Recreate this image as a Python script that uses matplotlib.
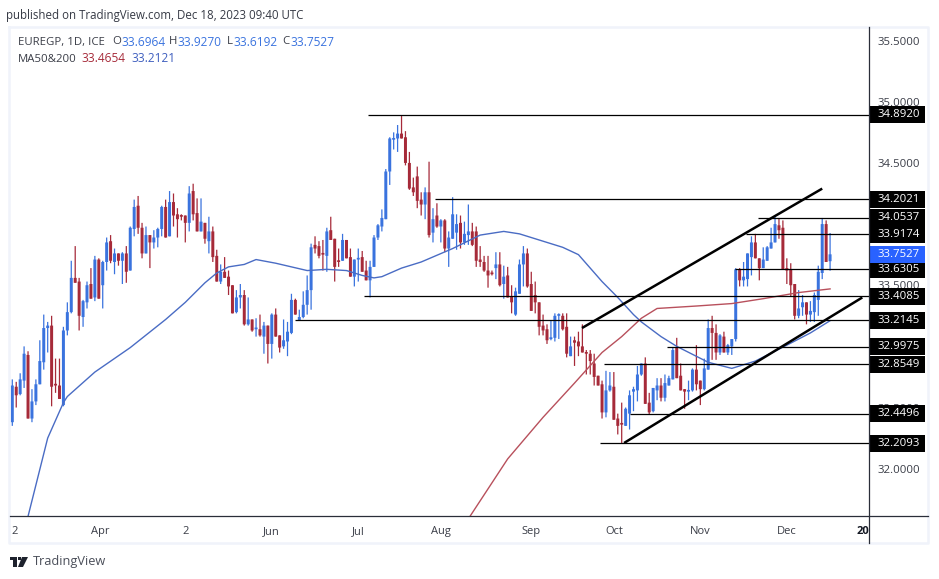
import numpy as np
import matplotlib
matplotlib.use('Agg')
import matplotlib.pyplot as plt
from matplotlib.lines import Line2D
from matplotlib.patches import Rectangle, Polygon

# daily candles
opens = [32.38,32.67,32.61,32.72,32.93,32.41,32.55,32.69,32.87,33.15,
 33.17,32.69,32.68,32.52,33.13,33.28,33.56,33.53,33.24,33.36,
 33.51,33.40,33.71,33.50,33.69,33.86,33.69,33.76,33.70,33.76,
 33.62,33.96,34.15,33.97,33.76,33.91,33.85,33.89,33.96,34.14,
 33.90,34.18,34.08,34.07,34.07,34.01,34.27,34.09,33.94,34.01,
 33.86,33.94,33.74,33.53,33.61,33.57,33.50,33.28,33.40,33.42,
 33.18,33.22,33.14,33.14,33.08,33.17,33.02,33.26,33.09,33.00,
 33.04,33.11,33.38,33.21,33.24,33.34,33.46,33.83,33.82,33.76,
 33.74,33.95,33.88,33.70,33.70,33.87,33.73,33.57,33.71,33.73,
 33.62,33.54,33.65,33.89,33.98,34.04,34.43,34.69,34.70,34.74,
 34.71,34.50,34.30,34.39,34.20,34.16,34.26,33.93,34.07,33.98,
 34.03,33.80,33.88,33.93,34.01,33.85,33.91,33.94,33.94,33.71,
 33.69,33.62,33.60,33.64,33.67,33.51,33.58,33.41,33.26,33.43,
 33.67,33.76,33.51,33.42,33.36,33.17,33.14,33.06,33.07,33.25,
 33.25,33.16,32.92,33.05,33.04,33.00,32.95,32.94,32.86,32.76,
 32.69,32.46,32.64,32.67,32.41,32.37,32.35,32.45,32.63,32.64,
 32.77,32.86,32.54,32.47,32.64,32.68,32.58,32.68,32.73,32.99,
 32.76,32.65,32.63,32.64,32.81,32.72,32.65,32.81,33.15,33.11,
 32.95,33.08,32.95,33.00,33.06,33.63,33.54,33.55,33.73,33.85,
 33.72,33.64,33.70,33.80,33.85,33.99,33.97,33.64,33.63,33.51,
 33.25,33.32,33.36,33.26,33.28,33.38,33.60,34.00,33.6964]
highs = [32.73,32.71,32.78,33.00,32.96,32.65,32.73,33.05,33.26,33.20,
 33.25,32.90,32.90,33.16,33.36,33.70,33.82,33.56,33.38,33.53,
 33.64,33.74,33.72,33.70,33.89,33.91,33.80,33.76,33.77,33.82,
 33.98,34.20,34.23,34.01,33.98,33.91,33.95,33.97,34.15,34.20,
 34.27,34.25,34.13,34.08,34.07,34.31,34.33,34.21,34.21,34.01,
 34.06,33.98,33.79,33.67,33.73,33.62,33.50,33.46,33.51,33.46,
 33.40,33.22,33.23,33.26,33.20,33.17,33.27,33.31,33.09,33.22,
 33.20,33.43,33.39,33.30,33.45,33.58,33.84,33.90,33.86,33.87,
 33.97,34.06,33.88,33.80,33.92,33.87,33.80,33.71,33.80,33.78,
 33.70,33.70,33.91,34.00,34.12,34.45,34.71,34.75,34.81,34.89,
 34.76,34.59,34.38,34.47,34.26,34.30,34.51,34.13,34.17,34.04,
 34.04,33.94,34.22,34.08,34.07,34.02,34.16,34.01,33.98,33.82,
 33.74,33.74,33.62,33.77,33.77,33.66,33.65,33.50,33.48,33.71,
 33.82,33.80,33.61,33.53,33.36,33.26,33.18,33.21,33.27,33.27,
 33.27,33.27,33.08,33.08,33.12,33.18,32.97,32.97,32.94,32.76,
 32.72,32.80,32.79,32.79,32.45,32.54,32.50,32.64,32.67,32.84,
 32.86,32.91,32.62,32.66,32.74,32.74,32.77,32.76,32.99,33.07,
 32.86,32.65,32.72,32.82,33.01,32.72,32.90,33.22,33.25,33.18,
 33.10,33.12,33.02,33.06,33.64,33.64,33.69,33.76,33.90,33.92,
 33.72,33.81,33.82,33.97,34.07,34.05,34.03,33.72,33.68,33.51,
 33.46,33.42,33.36,33.37,33.44,33.66,34.05,34.03,33.9270]
lows = [32.35,32.50,32.60,32.66,32.41,32.38,32.52,32.69,32.81,32.95,
 32.51,32.62,32.57,32.51,33.09,33.27,33.52,33.13,33.16,33.31,
 33.39,33.37,33.39,33.31,33.62,33.68,33.59,33.66,33.51,33.52,
 33.62,33.90,33.92,33.72,33.76,33.64,33.80,33.81,33.90,33.89,
 33.90,33.98,33.89,34.03,33.85,33.94,34.03,33.94,33.94,33.84,
 33.76,33.69,33.53,33.51,33.56,33.42,33.27,33.27,33.31,33.17,
 33.17,33.12,33.08,33.08,32.94,32.86,32.90,33.08,32.95,32.98,
 32.92,33.10,33.26,33.21,33.23,33.26,33.30,33.76,33.72,33.62,
 33.61,33.87,33.53,33.65,33.70,33.72,33.57,33.49,33.53,33.61,
 33.54,33.40,33.65,33.87,33.94,34.04,34.32,34.61,34.59,34.70,
 34.48,34.28,34.23,34.13,34.07,34.04,33.89,33.85,33.97,33.85,
 33.77,33.65,33.88,33.79,33.80,33.83,33.83,33.82,33.65,33.65,
 33.61,33.48,33.58,33.55,33.49,33.39,33.40,33.27,33.25,33.43,
 33.49,33.48,33.29,33.27,33.09,33.09,33.02,33.05,33.04,33.06,
 33.13,32.91,32.92,32.84,32.92,32.95,32.77,32.77,32.68,32.68,
 32.41,32.42,32.63,32.40,32.28,32.21,32.35,32.32,32.47,32.55,
 32.76,32.53,32.44,32.46,32.56,32.55,32.55,32.68,32.73,32.74,
 32.64,32.49,32.56,32.63,32.64,32.52,32.64,32.81,32.89,32.89,
 32.93,32.95,32.93,32.93,33.04,33.49,33.49,33.49,33.58,33.72,
 33.54,33.64,33.70,33.80,33.85,33.88,33.63,33.51,33.41,33.22,
 33.23,33.25,33.18,33.20,33.20,33.25,33.55,33.69,33.6192]
closes = [32.68,32.60,32.73,32.94,32.41,32.55,32.69,32.88,33.15,33.17,
 32.67,32.68,32.57,33.13,33.28,33.56,33.52,33.25,33.37,33.50,
 33.39,33.71,33.39,33.69,33.85,33.70,33.76,33.70,33.76,33.61,
 33.97,34.14,33.97,33.76,33.91,33.85,33.89,33.96,34.14,33.89,
 34.18,34.07,34.04,34.06,34.01,34.25,34.08,33.94,34.02,33.88,
 33.94,33.73,33.53,33.61,33.56,33.49,33.27,33.40,33.42,33.18,
 33.22,33.13,33.15,33.09,33.17,33.02,33.26,33.08,32.99,33.05,
 33.12,33.38,33.26,33.24,33.34,33.46,33.81,33.80,33.74,33.75,
 33.94,33.87,33.65,33.69,33.87,33.72,33.57,33.71,33.72,33.61,
 33.54,33.65,33.89,33.99,34.05,34.43,34.70,34.70,34.74,34.70,
 34.50,34.29,34.26,34.19,34.16,34.26,33.91,34.04,33.98,34.03,
 33.80,33.89,34.08,34.00,33.85,33.92,33.94,33.83,33.70,33.69,
 33.62,33.58,33.59,33.67,33.50,33.57,33.40,33.36,33.45,33.67,
 33.76,33.49,33.29,33.36,33.16,33.13,33.05,33.07,33.25,33.26,
 33.14,32.94,33.00,33.03,33.00,32.95,32.94,32.88,32.75,32.68,
 32.46,32.64,32.68,32.40,32.35,32.36,32.49,32.60,32.65,32.77,
 32.86,32.53,32.46,32.66,32.68,32.58,32.70,32.74,32.97,32.74,
 32.64,32.63,32.64,32.81,32.69,32.65,32.82,33.15,33.11,32.95,
 33.09,32.95,33.01,33.06,33.63,33.54,33.57,33.76,33.85,33.72,
 33.64,33.71,33.81,33.85,34.00,33.95,33.63,33.62,33.50,33.25,
 33.31,33.36,33.26,33.29,33.42,33.61,34.00,33.69,33.7527]

# moving averages, bar number and price
ma50_bars = [4,9,13,14,21,30,39,44,49,52,55,59,62,67,75,80,85,89,92,94,99,104,112,119,125,129,134,140,144,147,150,154,158,160,165,169,177,183,189,197,203,208]
ma50_vals = [31.61,32.25,32.54,32.59,32.79,32.99,33.22,33.36,33.52,33.60,33.65,33.67,33.71,33.68,33.62,33.63,33.62,33.58,33.56,33.57,33.64,33.69,33.80,33.91,33.94,33.92,33.87,33.81,33.75,33.64,33.53,33.40,33.26,33.20,33.08,33.00,32.87,32.82,32.88,33.01,33.11,33.21]
ma200_bars = [116,126,135,143,150,155,160,164,174,183,191,200,208]
ma200_vals = [31.59,32.08,32.42,32.70,32.95,33.08,33.23,33.31,33.33,33.35,33.39,33.44,33.47]

# drawn levels: price and the bar where the line begins
level_vals = [34.8920,34.2021,34.0537,33.9174,33.6305,33.4085,33.2145,32.9975,32.8549,32.4496,32.2093]
level_bars = [90.5,107.5,189.7,186.6,183.9,89.5,71.9,166.6,150.5,157.1,149.5]

# channel lines
upper_bars = [144.9,206]
upper_vals = [33.15,34.29]
lower_bars = [155.6,216.2]
lower_vals = [32.21,33.40]

# 34.0 and 33.0 sit fully behind the level boxes, so they are left out
ytick_vals = [35.5,35.0,34.5,33.5,32.5,32.0]
xtick_bars = [0.7,22.3,44,66,88,109,132,153,175,197,216.4]
xtick_labels = ['2','Apr','2','Jun','Jul','Aug','Sep','Oct','Nov','Dec','20']

last_close = 33.7527

BLUE = '#3a73de'
RED = '#a62a39'
GREY = '#f0f3fa'
TXT = '#3a3d47'
FONT = 'Open Sans'

W, H = 939, 579
fig = plt.figure(figsize=(W/100, H/100), dpi=100, facecolor='white')
plt.rcParams['font.family'] = FONT

L, R, T, B = 10, 869, 27, 516
ax = fig.add_axes([L/W, 1-B/H, (R-L)/W, (B-T)/H])
ax.set_xlim(-0.585, 217.9)
ax.set_ylim(31.613, 35.6115)
for s in ax.spines.values():
    s.set_visible(False)

# candles, no pixel snapping so the 3.9px spacing stays even
o = np.array(opens); h = np.array(highs); l = np.array(lows); c = np.array(closes)
bars = np.arange(len(o))
cols = np.where(c >= o, BLUE, RED)
wicks = ax.vlines(bars, l, h, colors=cols, linewidth=0.9, zorder=2)
wicks.set_snap(False)
bodies = ax.bar(bars, np.maximum(np.abs(c-o), 0.014), bottom=np.minimum(o, c), width=0.76, color=cols, linewidth=0, zorder=2.1)
for b in bodies:
    b.set_snap(False)

# moving averages
ax.plot(ma50_bars, ma50_vals, color='#4a6cc4', lw=1.0, zorder=3)
ax.plot(ma200_bars, ma200_vals, color='#b8505c', lw=1.0, zorder=3)

# levels and channel
ax.hlines(level_vals, level_bars, 217.9, colors='black', linewidth=0.9, zorder=4)
ax.plot(upper_bars, upper_vals, color='black', lw=1.8, zorder=4, solid_capstyle='butt')
ax.plot(lower_bars, lower_vals, color='black', lw=1.8, zorder=4, solid_capstyle='butt')

# axis labels
ax.yaxis.tick_right()
ax.set_yticks(ytick_vals)
ax.set_yticklabels(['%.4f' % v for v in ytick_vals], fontsize=8.2, color=TXT, family=FONT)
ax.tick_params(axis='y', length=0, pad=5.8)
ax.set_xticks(xtick_bars)
ax.set_xticklabels(xtick_labels, fontsize=8.0, color=TXT, family=FONT)
ax.tick_params(axis='x', length=0, pad=7)
ax.get_xticklabels()[-1].set_color('#131722')
ax.get_xticklabels()[-1].set_fontweight('bold')

# price boxes on the right scale
box_h = 17/122.3
trans = ax.get_yaxis_transform()
for v in level_vals:
    ax.add_patch(Rectangle((1.0, v-box_h/2), 56/(R-L), box_h, transform=trans, facecolor='black', edgecolor='none', clip_on=False, zorder=6))
    ax.text(1+8/(R-L), v, '%.4f' % v, transform=trans, color='white', fontsize=8.2, va='center', ha='left', clip_on=False, zorder=8)
ax.add_patch(Rectangle((1.0, last_close-box_h/2), 56/(R-L), box_h, transform=trans, facecolor='#2962ff', edgecolor='none', clip_on=False, zorder=7))
ax.text(1+8/(R-L), last_close, '%.4f' % last_close, transform=trans, color='white', fontsize=8.2, va='center', ha='left', clip_on=False, zorder=8)

# frame
def fx(x):
    return x/W
def fy(y):
    return 1-y/H

fig.add_artist(Line2D([fx(9), fx(9), fx(928), fx(928), fx(9)], [fy(27), fy(543), fy(543), fy(27), fy(27)], color=GREY, lw=1.8))
fig.add_artist(Line2D([fx(10), fx(928)], [fy(516), fy(516)], color='#2a2e39', lw=0.9))
fig.add_artist(Line2D([fx(869), fx(869)], [fy(27), fy(543)], color='#2a2e39', lw=0.9))

# header and legend
def put(x, y, s, color=TXT, size=8.2):
    fig.text(fx(x), fy(y), s, color=color, fontsize=size, va='center', ha='left', family=FONT)

put(6, 16, 'published on TradingView.com, Dec 18, 2023 09:40 UTC', '#363a45', 8.3)
put(18, 42, 'EUREGP, 1D, ICE')
put(112, 42, 'O'); put(121, 42, '33.6964', BLUE, 8.6)
put(169, 42, 'H'); put(177, 42, '33.9270', BLUE, 8.6)
put(227, 42, 'L'); put(233, 42, '33.6192', BLUE, 8.6)
put(282, 42, 'C'); put(290, 42, '33.7527', BLUE, 8.6)
put(18, 59, 'MA50&200')
put(81, 59, '33.4654', RED, 8.6)
put(131, 59, '33.2121', '#3f5fbf', 8.6)

# logo
logo = '#1e222d'
fig.add_artist(Polygon([(fx(10), fy(557)), (fx(17), fy(557)), (fx(17), fy(567)), (fx(13), fy(567)), (fx(13), fy(560)), (fx(10), fy(560))], closed=True, color=logo, lw=0))
fig.add_artist(Polygon([(fx(22), fy(557)), (fx(28), fy(557)), (fx(23), fy(567)), (fx(18), fy(567))], closed=True, color=logo, lw=0))
fig.add_artist(Polygon([(fx(18), fy(557)), (fx(20.5), fy(557)), (fx(20.5), fy(560)), (fx(18), fy(560))], closed=True, color=logo, lw=0))
put(33, 562, 'TradingView', '#4a4e59', 9.2)

fig.savefig('out.png', dpi=100, facecolor='white')
